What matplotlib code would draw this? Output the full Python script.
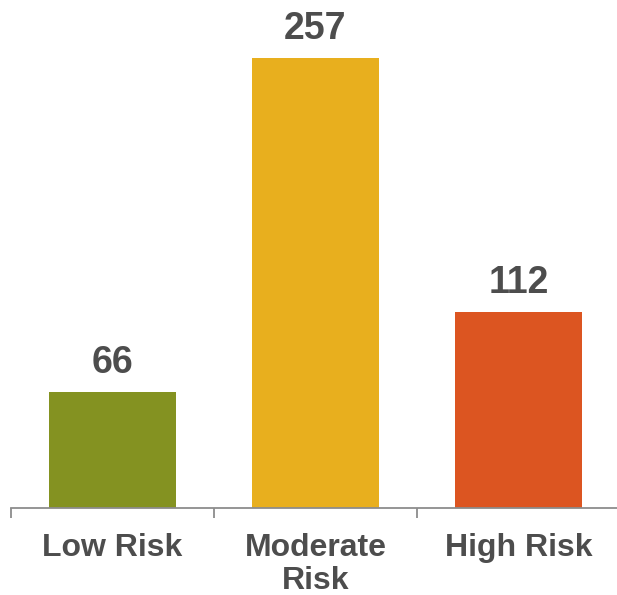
import matplotlib.pyplot as plt

# risk categories and counts
categories = ['Low Risk', 'Moderate\nRisk', 'High Risk']
counts = [66, 257, 112]
colors = ['#849221', '#E8AF1E', '#DC5521']

text_color = '#4D4D4D'
axis_color = '#8C8C8C'

plt.rcParams['font.family'] = ['Liberation Sans', 'DejaVu Sans']

fig = plt.figure(figsize=(6.17, 5.95), dpi=100)
ax = fig.add_axes([0.0172, 0.146, 0.988, 0.854])

x = range(len(categories))
bars = ax.bar(x, counts, width=0.627, color=colors)

for b, v in zip(bars, counts):
    ax.annotate(str(v), (b.get_x() + b.get_width() / 2, v),
                xytext=(0, 8), textcoords='offset points',
                ha='center', va='bottom', fontsize=27,
                fontweight='bold', color=text_color)

ax.set_xlim(-0.5, 2.5)
ax.set_ylim(0, 290)

# category ticks as labels, boundary ticks as marks
ax.set_xticks(list(x))
ax.set_xticklabels(categories, fontsize=23, fontweight='bold',
                   color=text_color, linespacing=1.12)
ax.tick_params(axis='x', which='major', length=0, pad=18)
ax.set_xticks([-0.5, 0.5, 1.5, 2.5], minor=True)
ax.tick_params(axis='x', which='minor', length=7.5, width=1.3,
               color=axis_color)
ax.set_yticks([])

for side in ['top', 'right', 'left']:
    ax.spines[side].set_visible(False)
ax.spines['bottom'].set_color(axis_color)
ax.spines['bottom'].set_linewidth(1.3)

fig.savefig('out.png', dpi=100)
